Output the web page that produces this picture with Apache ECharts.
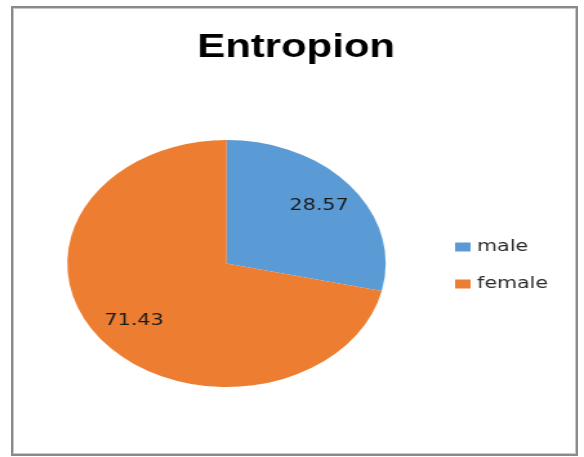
<!DOCTYPE html>
<html>
<head>
<meta charset="utf-8">
<script src="https://cdn.jsdelivr.net/npm/echarts@6/dist/echarts.min.js"></script>
<style>
  html, body { margin: 0; padding: 0; background: #fff; width: 584px; height: 457px; overflow: hidden; }
  #frame { position: absolute; left: 11px; top: 6px; width: 563px; height: 446px;
           border: 2px solid #8a8a8a; box-shadow: inset 1px 1px 0 #c8c8c8, inset -1px -1px 0 #c8c8c8; }
  #chart { position: absolute; left: 0; top: 0; width: 453px; height: 457px;
           transform: scaleX(1.2892); transform-origin: 0 0; }
</style>
</head>
<body>
<div id="frame"></div>
<div id="chart"></div>
<script>
const titleText = 'Entropion';
const categories = ['male', 'female'];
const values = [28.57, 71.43];
const colors = ['#5B9BD5', '#ED7D31'];

const pieData = categories.map((c, i) => ({ name: c, value: values[i] }));

const chart = echarts.init(document.getElementById('chart'), null, { renderer: 'canvas' });
chart.setOption({
  animation: false,
  color: colors,
  title: {
    text: titleText,
    left: 153,
    top: 32,
    padding: 0,
    textStyle: { fontFamily: 'Liberation Sans', fontWeight: 'bold', fontSize: 32.5, color: '#000' }
  },
  legend: {
    orient: 'vertical',
    left: 353,
    top: 239,
    padding: 0,
    itemGap: 21,
    itemWidth: 12,
    itemHeight: 9,
    icon: 'rect',
    data: categories,
    textStyle: { fontFamily: 'DejaVu Sans', fontSize: 16, color: '#2a2a2a' }
  },
  series: [
    {
      type: 'pie',
      center: [175.7, 263.5],
      radius: [0, 123.5],
      startAngle: 90,
      clockwise: true,
      label: { show: false },
      labelLine: { show: false },
      emphasis: { disabled: true },
      data: pieData
    },
    {
      type: 'pie',
      center: [175.7, 263.5],
      radius: [54, 123.5],
      startAngle: 90,
      clockwise: true,
      silent: true,
      itemStyle: { color: 'rgba(0,0,0,0)' },
      label: {
        show: true,
        position: 'inside',
        formatter: p => p.value.toFixed(2),
        fontFamily: 'DejaVu Sans',
        fontSize: 16,
        color: '#1a1a1a'
      },
      labelLine: { show: false },
      emphasis: { disabled: true },
      data: pieData
    }
  ]
});
</script>
</body>
</html>
